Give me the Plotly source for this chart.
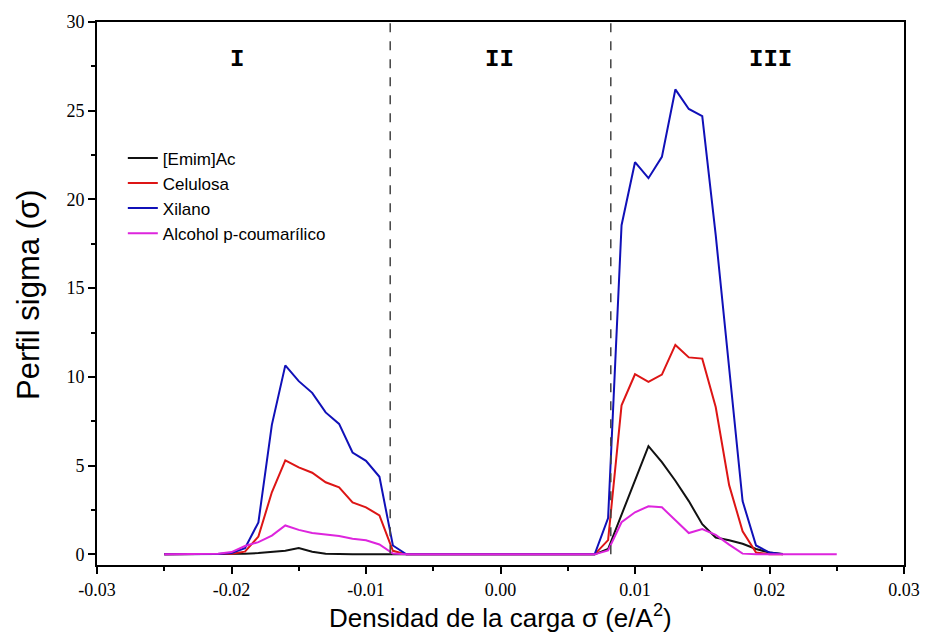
import numpy as np
import plotly.graph_objects as go

# charge density grid (e/A^2)
x_main = [round(-0.025 + 0.001 * i, 3) for i in range(47)]   # -0.025 .. 0.021
x_alc = [round(-0.025 + 0.001 * i, 3) for i in range(51)]    # -0.025 .. 0.025

emim = [0, 0, 0, 0, 0.01,
        0.02, 0.04, 0.07, 0.13, 0.2, 0.35, 0.15, 0.03,
        0, 0, 0, 0, 0,
        0, 0, 0, 0, 0, 0, 0, 0, 0, 0, 0, 0, 0, 0, 0,
        0.3, 2.2, 4.15, 6.1, 5.2, 4.15, 3.0, 1.7, 0.95, 0.8, 0.6, 0.3, 0.1, 0.02]

celulosa = [0, 0, 0, 0, 0.01,
            0.03, 0.15, 1.0, 3.5, 5.3, 4.9, 4.6, 4.06, 3.78, 2.93, 2.65, 2.19, 0.2,
            0, 0, 0, 0, 0, 0, 0, 0, 0, 0, 0, 0, 0, 0, 0,
            0.8, 8.4, 10.15, 9.72, 10.13, 11.8, 11.1, 11.03, 8.3, 3.9, 1.3, 0.1, 0, 0]

xilano = [0, 0, 0, 0, 0.02,
          0.07, 0.35, 1.8, 7.3, 10.65, 9.76, 9.1, 8.0, 7.35, 5.74, 5.27, 4.37, 0.5,
          0, 0, 0, 0, 0, 0, 0, 0, 0, 0, 0, 0, 0, 0, 0,
          2.05, 18.55, 22.1, 21.2, 22.4, 26.2, 25.1, 24.7, 18.0, 10.5, 3.0, 0.5, 0.1, 0]

alcohol = [0, 0, 0, 0, 0.04,
           0.13, 0.47, 0.69, 1.06, 1.63, 1.38, 1.2, 1.1, 1.03, 0.88, 0.79, 0.56, 0.05,
           0, 0, 0, 0, 0, 0, 0, 0, 0, 0, 0, 0, 0, 0, 0,
           0.22, 1.81, 2.37, 2.71, 2.65, 1.94, 1.2, 1.42, 1.1, 0.55, 0.04,
           0, 0, 0, 0, 0, 0, 0]

names = ["[Emim]Ac", "Celulosa", "Xilano", "Alcohol p-coumarílico"]
colors = ["#111111", "#DD1515", "#1010B8", "#DD25DD"]

x_tickvals = [-0.03, -0.02, -0.01, 0.0, 0.01, 0.02, 0.03]
x_ticktext = ["-0.03", "-0.02", "-0.01", "0.00", "0.01", "0.02", "0.03"]
y_tickvals = [0, 5, 10, 15, 20, 25, 30]
y_ticktext = ["0", "5", "10", "15", "20", "25", "30"]

x_title = "Densidad de la carga σ (e/A<sup>2</sup>)"
y_title = "Perfil sigma (σ)"

region_labels = ["I", "II", "III"]
region_x = [-0.0196, -0.0001, 0.0201]
boundary_x = [-0.0082, 0.0082]

fig = go.Figure()
series = [(x_main, emim), (x_main, celulosa), (x_main, xilano), (x_alc, alcohol)]
for (xs, ys), name, col in zip(series, names, colors):
    fig.add_trace(go.Scatter(x=xs, y=ys, mode="lines", name=name,
                             line=dict(color=col, width=2)))

for bx in boundary_x:
    fig.add_shape(type="line", x0=bx, x1=bx, y0=0, y1=30, xref="x", yref="y",
                  line=dict(color="#444444", width=1.5, dash="dash"), layer="above")

for lab, rx in zip(region_labels, region_x):
    fig.add_annotation(x=rx, y=27.9, text="<b>" + lab + "</b>", showarrow=False,
                       font=dict(family="Liberation Mono", size=24, color="black"))

# axis titles
fig.add_annotation(xref="paper", yref="paper", x=0.5, y=-0.094,
                   xanchor="center", yanchor="middle", showarrow=False,
                   text=x_title,
                   font=dict(family="Liberation Sans", size=26, color="black"))
fig.add_annotation(xref="paper", yref="paper", x=-0.085, y=0.498,
                   xanchor="center", yanchor="middle", showarrow=False,
                   textangle=-90, text=y_title,
                   font=dict(family="Liberation Sans", size=31, color="black"))

tickfont = dict(family="Liberation Serif", size=18, color="black")
fig.update_layout(
    width=932, height=634,
    margin=dict(l=97, r=26, t=20, b=69),
    paper_bgcolor="white", plot_bgcolor="white",
    showlegend=True,
    legend=dict(x=0.032, y=0.782, xanchor="left", yanchor="top",
                bgcolor="rgba(0,0,0,0)", borderwidth=0,
                font=dict(family="Liberation Sans", size=17, color="black"),
                tracegroupgap=0),
    xaxis=dict(range=[-0.03, 0.03], tickvals=x_tickvals, ticktext=x_ticktext,
               showgrid=False, zeroline=False, showline=True, mirror=True,
               linecolor="black", linewidth=2, ticks="outside", ticklen=7,
               tickwidth=2, tickcolor="black", tickfont=tickfont,
               minor=dict(dtick=0.005, tick0=-0.03, ticks="outside", ticklen=4,
                          tickwidth=2, tickcolor="black")),
    yaxis=dict(range=[-0.6, 30], tickvals=y_tickvals, ticktext=y_ticktext,
               showgrid=False, zeroline=False, showline=True, mirror=True,
               linecolor="black", linewidth=2, ticks="outside", ticklen=7,
               tickwidth=2, tickcolor="black", tickfont=tickfont,
               minor=dict(dtick=2.5, tick0=0, ticks="outside", ticklen=4,
                          tickwidth=2, tickcolor="black")),
)

fig.write_html("out.html")
